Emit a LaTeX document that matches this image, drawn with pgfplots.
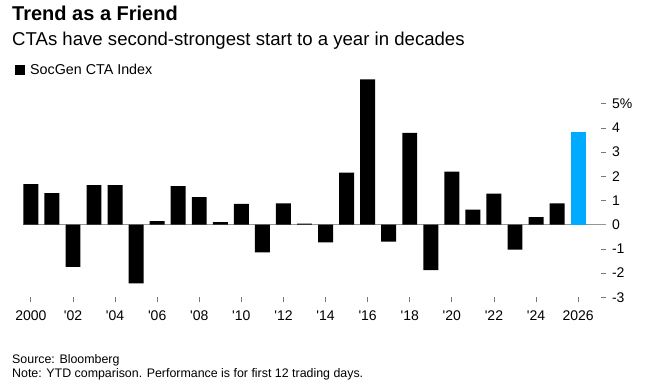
\documentclass[border=0pt]{standalone}
\usepackage{pgfplots}
\pgfplotsset{compat=1.18}
\usepackage{fontspec}
\setmainfont{Liberation Sans}
\definecolor{ctablue}{RGB}{0,170,255}
\definecolor{zeroline}{RGB}{150,150,150}
\definecolor{tickgray}{RGB}{120,120,120}
\begin{document}
\begin{tikzpicture}
\path[use as bounding box] (0pt,0pt) rectangle (659pt,-390pt);
\node[anchor=base west, inner sep=0pt, font=\fontsize{20}{24}\selectfont\bfseries] at (12pt,-21pt) {Trend as a Friend};
\node[anchor=base west, inner sep=0pt, font=\fontsize{18.6}{22}\selectfont] at (12pt,-46pt) {CTAs have second-strongest start to a year in decades};
\node[anchor=base west, inner sep=0pt, font=\fontsize{12.4}{15}\selectfont] at (12pt,-363pt) {Source: Bloomberg};
\node[anchor=base west, inner sep=0pt, font=\fontsize{12.4}{15}\selectfont] at (12pt,-377.5pt) {Note: YTD comparison. Performance is for first 12 trading days.};
\begin{axis}[
  at={(23.3pt,-297.3pt)}, anchor=south west,
  scale only axis, width=582.2pt, height=220.2pt,
  xmin=1999.64, xmax=2027.3, ymin=-3, ymax=6.1,
  ybar, bar width=0.71, bar shift=0pt,
  axis x line*=bottom, axis y line*=right,
  axis line style={draw=none},
  tick align=outside,
  major tick length=5pt,
  xtick={2000,2002,...,2026},
  xticklabels={2000,\textquotesingle 02,\textquotesingle 04,\textquotesingle 06,\textquotesingle 08,\textquotesingle 10,\textquotesingle 12,\textquotesingle 14,\textquotesingle 16,\textquotesingle 18,\textquotesingle 20,\textquotesingle 22,\textquotesingle 24,2026},
  ytick={-3,-2,...,5},
  yticklabels={-3,-2,-1,0,1,2,3,4,5\%},
  x tick style={draw=tickgray, line width=0.8pt},
  y tick style={draw=tickgray, line width=0.8pt, xshift=-5pt},
  xticklabel style={font=\fontsize{14}{16}\selectfont, yshift=-5pt},
  yticklabel style={font=\fontsize{14}{16}\selectfont, anchor=west, xshift=-2pt},
  extra y ticks={0}, extra y tick labels={},
  extra y tick style={grid=major, major tick length=0pt},
  major grid style={draw=zeroline, line width=1pt},
  legend style={at={(axis description cs:-0.0143,1.068)}, anchor=north west, draw=none, fill=none, inner sep=0pt, font=\fontsize{14.3}{16}\selectfont},
  legend image code/.code={\path[#1] (0pt,-5pt) rectangle (10pt,5pt); \path (13pt,0pt);},
  clip=false,
]
\addplot[fill=black, draw=none] coordinates {
(2000,1.68) (2001,1.31) (2002,-1.74) (2003,1.64) (2004,1.64) (2005,-2.42)
(2006,0.15) (2007,1.59) (2008,1.14) (2009,0.11) (2010,0.86) (2011,-1.14)
(2012,0.88) (2013,0.04) (2014,-0.73) (2015,2.15) (2016,6.01) (2017,-0.70)
(2018,3.79) (2019,-1.88) (2020,2.19) (2021,0.62) (2022,1.28) (2023,-1.03)
(2024,0.31) (2025,0.88)
};
\addlegendentry{SocGen CTA Index}
\addplot[fill=ctablue, draw=none, forget plot] coordinates {(2026,3.82)};
\end{axis}
\end{tikzpicture}
\end{document}
